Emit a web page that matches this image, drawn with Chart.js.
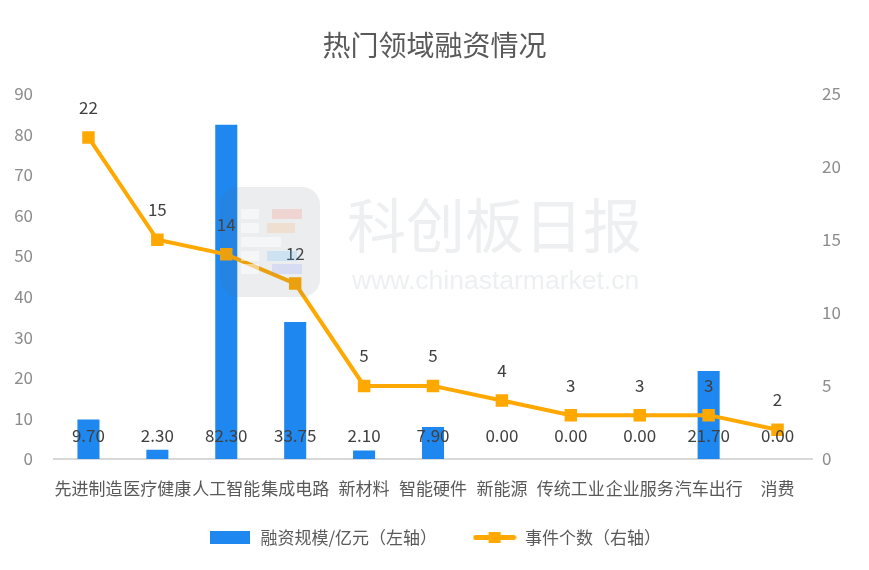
<!DOCTYPE html>
<html>
<head>
<meta charset="utf-8">
<script src="https://cdn.jsdelivr.net/npm/chart.js@4"></script>
<style>
  html, body { margin: 0; padding: 0; background: #fff; }
  #wrap { width: 869px; height: 570px; }
</style>
</head>
<body>
<div id="wrap"><canvas id="c"></canvas></div>
<script>
const categories = ['先进制造', '医疗健康', '人工智能', '集成电路', '新材料', '智能硬件', '新能源', '传统工业', '企业服务', '汽车出行', '消费'];
const funding = [9.70, 2.30, 82.30, 33.75, 2.10, 7.90, 0.00, 0.00, 0.00, 21.70, 0.00];
const events = [22, 15, 14, 12, 5, 5, 4, 3, 3, 3, 2];

const FONT = '"Noto Sans CJK SC", "Noto Sans", sans-serif';
const ORANGE = '#FFA800';
const BLUE = '#1E88F0';

// legend swatches
function swatch(w, h, draw) {
  const cv = document.createElement('canvas');
  cv.width = w; cv.height = h;
  draw(cv.getContext('2d'));
  return cv;
}
const barSwatch = swatch(40, 13, g => { g.fillStyle = BLUE; g.fillRect(0, 0, 40, 13); });
const lineSwatch = swatch(44, 13, g => {
  g.strokeStyle = ORANGE; g.lineWidth = 5; g.lineCap = 'round';
  g.beginPath(); g.moveTo(3, 6.5); g.lineTo(41, 6.5); g.stroke();
  g.fillStyle = ORANGE; g.fillRect(16, 1, 12, 11);
});

// value labels + watermark
const labelsPlugin = {
  id: 'labels',
  afterDatasetsDraw(chart) {
    const ctx = chart.ctx;
    const y0 = chart.scales.y.getPixelForValue(0);
    ctx.save();
    ctx.font = '17px ' + FONT;
    ctx.fillStyle = '#404040';
    ctx.textAlign = 'center';
    ctx.textBaseline = 'middle';
    chart.getDatasetMeta(1).data.forEach((bar, i) => {
      ctx.fillText(funding[i].toFixed(2), bar.x, y0 - 23);
    });
    chart.getDatasetMeta(0).data.forEach((pt, i) => {
      ctx.fillText(String(events[i]), pt.x, pt.y - 30);
    });
    ctx.restore();
  },
  afterDraw(chart) {
    const ctx = chart.ctx;
    ctx.save();
    ctx.globalAlpha = 0.12;
    ctx.fillStyle = '#5a6b7b';
    ctx.beginPath();
    ctx.roundRect(220, 187, 100, 110, 18);
    ctx.fill();
    ctx.globalAlpha = 0.5;
    ctx.fillStyle = '#ffffff';
    ctx.fillRect(241, 209, 18, 10);
    ctx.fillRect(241, 223, 18, 10);
    ctx.fillRect(241, 237, 40, 10);
    ctx.fillRect(241, 251, 18, 10);
    ctx.fillRect(241, 264, 18, 10);
    ctx.globalAlpha = 0.18;
    ctx.fillStyle = '#ff6a4a';
    ctx.fillRect(272, 209, 30, 10);
    ctx.fillStyle = '#ffa040';
    ctx.fillRect(267, 223, 28, 10);
    ctx.fillStyle = '#40b8ff';
    ctx.fillRect(267, 251, 30, 10);
    ctx.fillStyle = '#8090ff';
    ctx.fillRect(272, 264, 30, 10);
    ctx.globalAlpha = 1;
    ctx.fillStyle = 'rgba(200,205,212,0.33)';
    ctx.textAlign = 'left';
    ctx.textBaseline = 'middle';
    ctx.font = '59px ' + FONT;
    ctx.fillText('科创板日报', 347, 226);
    ctx.font = '26.5px "Liberation Sans", sans-serif';
    ctx.fillText('www.chinastarmarket.cn', 352, 282);
    ctx.restore();
  }
};

new Chart(document.getElementById('c'), {
  data: {
    labels: categories,
    datasets: [
      {
        type: 'line',
        label: '事件个数（右轴）',
        data: events,
        yAxisID: 'y1',
        borderColor: ORANGE,
        backgroundColor: ORANGE,
        borderWidth: 4,
        pointStyle: 'rect',
        pointRadius: 6,
        pointHoverRadius: 6,
        tension: 0,
        order: 0
      },
      {
        type: 'bar',
        label: '融资规模/亿元（左轴）',
        data: funding,
        yAxisID: 'y',
        backgroundColor: BLUE,
        barPercentage: 0.32,
        categoryPercentage: 1,
        order: 1
      }
    ]
  },
  options: {
    responsive: true,
    maintainAspectRatio: false,
    animation: false,
    layout: { padding: { left: 0, right: 0, top: 8, bottom: 14 } },
    plugins: {
      title: {
        display: true,
        text: '热门领域融资情况',
        color: '#595959',
        font: { size: 28, family: FONT, weight: 'normal' },
        padding: { top: 21, bottom: 31 }
      },
      legend: {
        position: 'bottom',
        labels: {
          color: '#595959',
          font: { size: 17, family: FONT },
          usePointStyle: true,
          pointStyleWidth: 44,
          boxHeight: 13,
          padding: 10,
          generateLabels: chart => [
            { text: '融资规模/亿元（左轴）\u3000\u3000', pointStyle: barSwatch, fontColor: '#595959', datasetIndex: 1, lineWidth: 0 },
            { text: '事件个数（右轴）', pointStyle: lineSwatch, fontColor: '#595959', datasetIndex: 0, lineWidth: 0 }
          ]
        }
      },
      tooltip: { enabled: false }
    },
    scales: {
      x: {
        grid: { display: false, drawTicks: false },
        border: { color: '#d9d9d9', width: 2 },
        ticks: { color: '#595959', font: { size: 17, family: FONT, lineHeight: 3.06 }, padding: 4, maxRotation: 0, autoSkip: false }
      },
      y: {
        position: 'left',
        min: 0, max: 90,
        grid: { display: false, drawTicks: false },
        border: { display: false },
        ticks: { stepSize: 10, color: '#8c8c8c', font: { size: 17, family: FONT }, padding: 21 },
        afterFit: s => { s.width = 54; }
      },
      y1: {
        position: 'right',
        min: 0, max: 25,
        grid: { display: false, drawTicks: false },
        border: { display: false },
        ticks: { stepSize: 5, color: '#8c8c8c', font: { size: 17, family: FONT }, padding: 10 },
        afterFit: s => { s.width = 57; }
      }
    }
  },
  plugins: [labelsPlugin]
});
</script>
</body>
</html>
